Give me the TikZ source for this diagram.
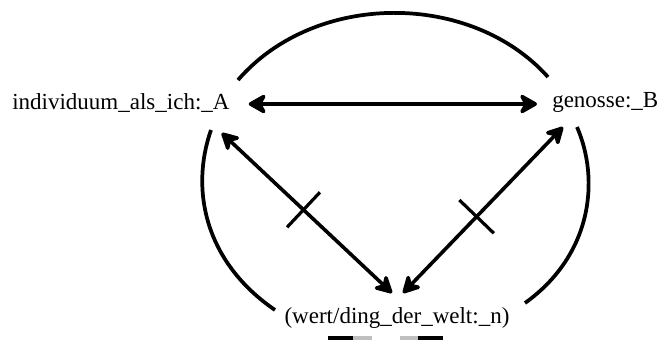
\documentclass[tikz,border=0pt]{standalone}
\usepackage{fontspec}
\setmainfont{Liberation Serif}
\usetikzlibrary{arrows.meta,calc}
\tikzset{
  lbl/.style={inner sep=0pt, font=\fontsize{17.25}{20}\selectfont},
  harrow/.style={line width=3.2pt, {Stealth[length=16pt, width=18pt, inset=5pt, round]}-{Stealth[length=16pt, width=18pt, inset=5pt, round]}},
  darrow/.style={line width=2.7pt, {Stealth[length=16pt, width=17pt, inset=5pt, round]}-{Stealth[length=16pt, width=17pt, inset=5pt, round]}},
  arcline/.style={line width=2.8pt},
  tickline/.style={line width=2.4pt},
}
\begin{document}
\begin{tikzpicture}[x=0.75pt,y=-0.75pt]
\useasboundingbox (0,0) rectangle (662,340);
\fill[white] (0,0) rectangle (662,340);

% nodes
\node[lbl, anchor=base west] (A) at (12,109) {individuum\_als\_ich:\_A};
\node[lbl, anchor=base west] (B) at (552,107) {genosse:\_B};
\node[lbl, anchor=base] (N) at (397,323) {(wert/ding\_der\_welt:\_n)};

% connector end points near the nodes
\coordinate (Ah) at ($(A.base east)+(19,-5)$);
\coordinate (Bh) at ($(B.base west)+(-15,-3)$);
\coordinate (Ad) at ($(A.base east)+(-8,24)$);
\coordinate (NdA) at ($(N.base)+(-5,-30)$);
\coordinate (NdB) at ($(N.base)+(6,-30)$);
\coordinate (Bd) at ($(B.base west)+(11,20)$);

% connectors
\draw[harrow] (Ah) -- (Bh);
\draw[darrow] (Ad) -- (NdA) coordinate[pos=0.48] (m1);
\draw[darrow] (NdB) -- (Bd) coordinate[pos=0.46] (m2);

% crossing ticks
\draw[tickline] ($(m1)!18pt!90:(NdA)$) -- ($(m1)!18pt!-90:(NdA)$);
\draw[tickline] ($(m2)!18pt!90:(Bd)$) -- ($(m2)!18pt!-90:(Bd)$);

% arcs
\draw[arcline] (238,80) .. controls (315,-9) and (471,-9) .. (548,77);
\draw[arcline] (211,130) .. controls (190,190) and (205,262) .. (275,310);
\draw[arcline] (577,127) .. controls (600,180) and (592,255) .. (525,303);

% bottom fragments
\fill[black!25] (353,336) rectangle (372,340);
\fill[black!25] (400,336) rectangle (418,340);
\fill[black] (328,336) rectangle (353,340);
\fill[black] (418,336) rectangle (443,340);
\end{tikzpicture}
\end{document}
